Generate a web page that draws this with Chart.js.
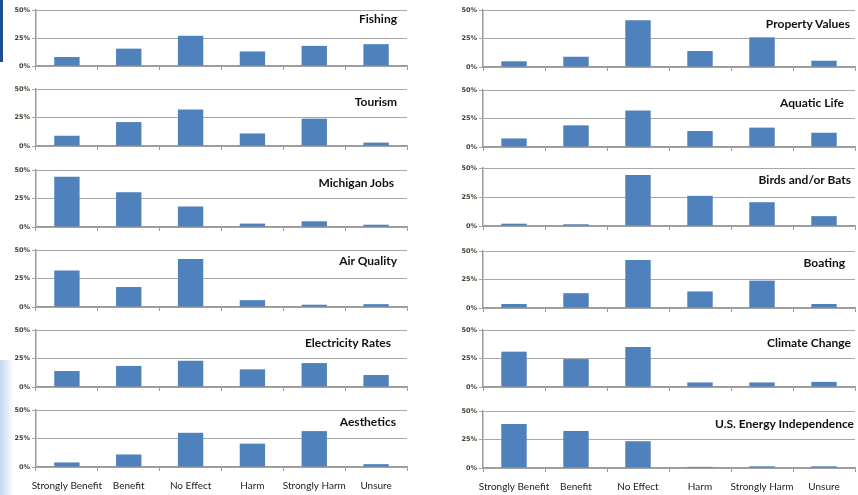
<!DOCTYPE html>
<html lang="en">
<head>
<meta charset="UTF-8">
<title>Perceived Effects</title>
<script src="https://cdn.jsdelivr.net/npm/chart.js"></script>
<style>
  html, body { margin: 0; padding: 0; background: #fff; }
  body { width: 858px; height: 495px; position: relative; overflow: hidden; }
  .box { position: absolute; }
  .titulo { position: absolute; font: bold 12px Lato, sans-serif; color: #111; white-space: nowrap; line-height: 16px; height: 16px; }
  #faixa { position: absolute; left: 0; top: 0; width: 3px; height: 62px; background: #1f4f8f; }
  #degrade { position: absolute; left: 0; top: 360px; width: 14px; height: 135px;
             background: linear-gradient(to right, rgba(150, 180, 225, 0.55), rgba(255, 255, 255, 0)); }
</style>
</head>
<body>
<div id="faixa"></div>
<div id="degrade"></div>

<script>
    // dados
    const categories = ['Strongly Benefit', 'Benefit', 'No Effect', 'Harm', 'Strongly Harm', 'Unsure'];
    const yTicks = [0, 25, 50];

    const fishing = [8, 15.5, 27, 13, 18, 19.5];
    const tourism = [9, 21, 32, 11, 24, 3];
    const michiganJobs = [44, 30.5, 18, 3, 5, 2];
    const airQuality = [32, 17.5, 42, 6, 2, 2.5];
    const electricityRates = [14, 18.5, 23, 15.5, 21, 10.5];
    const aesthetics = [4, 11, 30, 20.5, 31.5, 2.5];

    const propertyValues = [5, 9, 41, 14, 26, 5.5];
    const aquaticLife = [7.5, 19, 32, 14, 17, 12.5];
    const birdsBats = [2, 1.5, 44, 26, 20.5, 8.5];
    const boating = [3.5, 13, 42, 14.5, 24, 3.5];
    const climateChange = [31, 24.5, 35, 4, 4, 4.5];
    const energyIndependence = [38.5, 32.5, 23.5, 1, 1.5, 1.5];

    const titlesLeft = ['Fishing', 'Tourism', 'Michigan Jobs', 'Air Quality', 'Electricity Rates', 'Aesthetics'];
    const titlesRight = ['Property Values', 'Aquatic Life', 'Birds and/or Bats', 'Boating', 'Climate Change', 'U.S. Energy Independence'];
    const seriesLeft = [fishing, tourism, michiganJobs, airQuality, electricityRates, aesthetics];
    const seriesRight = [propertyValues, aquaticLife, birdsBats, boating, climateChange, energyIndependence];

    // layout (pixels)
    const colLeft = [0, 430];
    const colWidth = [430, 428];
    const axisX = [36, 483];
    const plotRight = [407, 855];
    const rowTop = [[10, 89, 170, 250, 330, 410], [10, 90, 168, 251, 330, 411]];
    const rowBase = [[66, 146, 227, 307, 387, 467], [67, 147, 226, 308, 387, 468]];
    const titleRightGap = [[10, 10, 13, 10, 16, 11], [5, 11, 4, 10, 4, 1]];
    const titleDown = [[9, 13, 13, 11, 13, 12], [14, 13, 12, 12, 13, 13]];

    const corBarra = '#4F81BD';
    const corGrade = '#a8a8a8';
    const corEixo = '#9a9a9a';

    function desenharGrafico(col, row, valores, titulo) {
        const ultima = row === 5;
        const padTop = 6;
        const xAltura = ultima ? 28 : 6;
        const top = rowTop[col][row];
        const base = rowBase[col][row];

        const box = document.createElement('div');
        box.className = 'box';
        box.style.left = colLeft[col] + 'px';
        box.style.top = (top - padTop) + 'px';
        box.style.width = colWidth[col] + 'px';
        box.style.height = (base - top + padTop + xAltura) + 'px';
        const canvas = document.createElement('canvas');
        box.appendChild(canvas);
        document.body.appendChild(box);

        const t = document.createElement('div');
        t.className = 'titulo';
        t.textContent = titulo;
        t.style.right = (858 - (plotRight[col] - titleRightGap[col][row])) + 'px';
        t.style.top = (top + titleDown[col][row] - 8) + 'px';
        document.body.appendChild(t);

        new Chart(canvas, {
            type: 'bar',
            data: {
                labels: categories,
                datasets: [{
                    data: valores,
                    backgroundColor: corBarra,
                    borderWidth: 0,
                    barPercentage: 0.41,
                    categoryPercentage: 1
                }]
            },
            options: {
                responsive: true,
                maintainAspectRatio: false,
                animation: false,
                layout: {
                    padding: { top: padTop, left: 0, bottom: 0, right: colLeft[col] + colWidth[col] - plotRight[col] }
                },
                plugins: {
                    legend: { display: false },
                    tooltip: { enabled: false },
                    title: { display: false }
                },
                scales: {
                    x: {
                        grid: { offset: true, drawOnChartArea: false, drawTicks: true, tickLength: 4, color: corEixo, lineWidth: 1 },
                        border: { display: true, color: corEixo, width: 1.5 },
                        ticks: {
                            display: ultima, autoSkip: false, maxRotation: 0, minRotation: 0, padding: 9,
                            color: '#222', font: { family: 'Lato', size: 10 }
                        },
                        afterFit: function (s) { s.height = xAltura; }
                    },
                    y: {
                        min: 0,
                        max: 50,
                        afterBuildTicks: function (s) { s.ticks = yTicks.map(v => ({ value: v })); },
                        grid: { color: corGrade, lineWidth: 1, tickLength: 4 },
                        border: { display: true, color: corEixo, width: 1.5 },
                        ticks: {
                            padding: 2, color: '#4a4236',
                            font: { family: 'DejaVu Sans', size: 6.5, weight: 'bold' },
                            callback: v => v + '%'
                        },
                        afterFit: function (s) { s.width = axisX[col] - colLeft[col]; }
                    }
                }
            }
        });
    }

    for (let i = 0; i < 6; i++) {
        desenharGrafico(0, i, seriesLeft[i], titlesLeft[i]);
        desenharGrafico(1, i, seriesRight[i], titlesRight[i]);
    }
</script>
</body>
</html>
